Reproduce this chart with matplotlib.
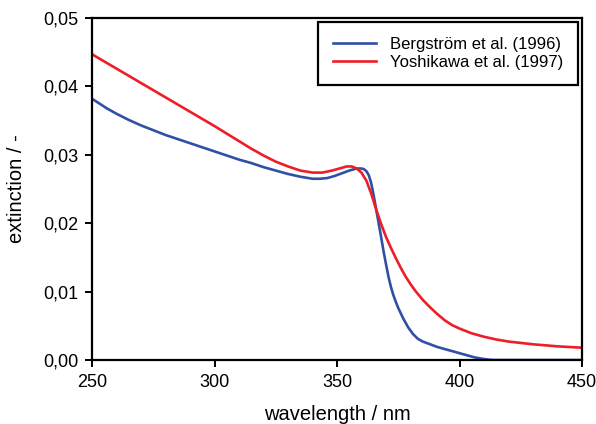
import numpy as np
import matplotlib.pyplot as plt
from matplotlib.ticker import FuncFormatter

# Data
wl_bergstrom = [250, 253, 256, 260, 265, 270, 275, 280, 285, 290, 295, 300, 305,
                310, 315, 320, 325, 330, 335, 340, 343, 346, 349, 352, 355, 358,
                360, 361, 362, 363, 364, 365, 366, 367, 368, 369, 370, 371, 372,
                373, 374, 375, 377, 379, 381, 383, 385, 388, 391, 394, 397, 400,
                403, 406, 409, 412, 414, 450]
ext_bergstrom = [0.0382, 0.0375, 0.0368, 0.0360, 0.0351, 0.0343, 0.0336, 0.0329,
                 0.0323, 0.0317, 0.0311, 0.0305, 0.0299, 0.0293, 0.0288, 0.0282,
                 0.0277, 0.0272, 0.0268, 0.0265, 0.0265, 0.0266, 0.0269, 0.0273,
                 0.0277, 0.0280, 0.0280, 0.0279, 0.0276, 0.0270, 0.0258, 0.0240,
                 0.0220, 0.0200, 0.0180, 0.0159, 0.0140, 0.0122, 0.0107, 0.0095,
                 0.0085, 0.0076, 0.0061, 0.0048, 0.0038, 0.0031, 0.0027, 0.0023,
                 0.0019, 0.0016, 0.0013, 0.0010, 0.0007, 0.0004, 0.0002, 0.00005,
                 0.0, 0.0]

wl_yoshikawa = [250, 260, 270, 280, 290, 300, 305, 310, 315, 320, 325, 330, 335,
                340, 344, 348, 351, 354, 356, 358, 360, 362, 364, 366, 368, 370,
                372, 374, 376, 378, 380, 382, 385, 388, 391, 394, 397, 400, 405,
                410, 415, 420, 430, 440, 450]
ext_yoshikawa = [0.0447, 0.0426, 0.0405, 0.0384, 0.0363, 0.0342, 0.0331, 0.0320,
                 0.0309, 0.0299, 0.0290, 0.0283, 0.0277, 0.0274, 0.0274, 0.0277,
                 0.0280, 0.0283, 0.0283, 0.0280, 0.0274, 0.0262, 0.0243, 0.0220,
                 0.0199, 0.0180, 0.0164, 0.0149, 0.0135, 0.0122, 0.0111, 0.0101,
                 0.0088, 0.0077, 0.0067, 0.0058, 0.0051, 0.0046, 0.0039, 0.0034,
                 0.0030, 0.0027, 0.0023, 0.0020, 0.0018]

labels = ["Bergström et al. (1996)", "Yoshikawa et al. (1997)"]
colors = ["#3050a6", "#ee1d27"]
xticks = [250, 300, 350, 400, 450]
yticks = [0.0, 0.01, 0.02, 0.03, 0.04, 0.05]

plt.rcParams["font.family"] = ["Liberation Sans", "DejaVu Sans"]

fig = plt.figure(figsize=(5.96, 4.24), dpi=100)
ax = fig.add_axes([0.1544, 0.1509, 0.8221, 0.8066])

ax.plot(wl_bergstrom, ext_bergstrom, color=colors[0], lw=1.9, label=labels[0])
ax.plot(wl_yoshikawa, ext_yoshikawa, color=colors[1], lw=1.9, label=labels[1])

ax.set_xlim(250, 450)
ax.set_ylim(0, 0.05)
ax.set_xticks(xticks)
ax.set_yticks(yticks)
ax.yaxis.set_major_formatter(FuncFormatter(lambda v, p: "{:.2f}".format(v).replace(".", ",")))
ax.tick_params(direction="out", length=5, width=1.4, labelsize=13, pad=5,
               top=False, right=False)
for sp in ax.spines.values():
    sp.set_linewidth(1.6)

ax.set_xlabel("wavelength / nm", fontsize=14.5, labelpad=10)
ax.set_ylabel("extinction / -", fontsize=14.5, labelpad=12)

leg = ax.legend(loc="upper right", bbox_to_anchor=(0.992, 0.988), borderaxespad=0,
                fontsize=12, fancybox=False, framealpha=1, edgecolor="black",
                handlelength=2.6, labelspacing=0.15, borderpad=0.9)
leg.get_frame().set_linewidth(1.6)

plt.savefig("out.png", dpi=100)
